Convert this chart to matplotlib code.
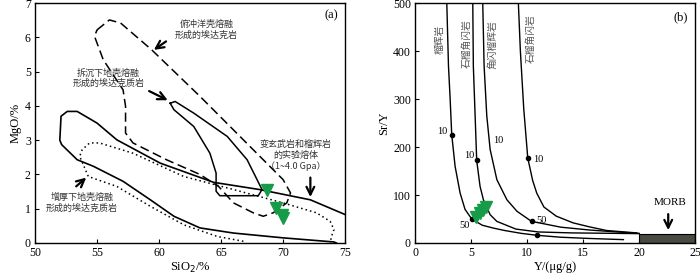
import numpy as np
import matplotlib.pyplot as plt
from matplotlib.patches import Rectangle

plt.rcParams['font.family'] = ['Liberation Serif', 'Noto Sans CJK SC']
cjk = ['Noto Sans CJK SC', 'DejaVu Sans']

# panel a: SiO2 vs MgO fields
solid_x = [75, 72.2, 68.1, 64.4, 60.1, 56.6, 55.0, 53.4, 52.6, 52.1, 52.0, 52.15, 53.4, 54.7, 57.1, 59.3, 61.2, 63.3, 66.0, 70.0, 74.1, 74.3]
solid_y = [0.83, 1.26, 1.56, 1.77, 2.33, 3.01, 3.5, 3.84, 3.84, 3.7, 3.0, 2.87, 2.43, 2.24, 1.8, 1.26, 0.78, 0.44, 0.29, 0.15, 0.03, 0.0]

deland_x = [60.9, 61.3, 62.8, 65.5, 67.1, 68.3, 68.0, 64.9, 64.6, 64.6, 64.1, 62.8, 61.2, 60.9]
deland_y = [4.08, 4.13, 3.79, 3.11, 2.43, 1.56, 1.38, 1.38, 1.51, 2.04, 2.62, 3.4, 3.89, 4.08]

slab_x = [55.0, 56.0, 56.9, 59.4, 63.3, 67.6, 70.0, 70.6, 70.3, 69.2, 68.4, 67.6, 66.0, 64.8, 63.3, 60.6, 57.9, 57.3, 57.3, 57.1, 55.5, 54.8, 55.0]
slab_y = [6.22, 6.51, 6.42, 5.64, 4.28, 2.72, 1.85, 1.46, 1.17, 0.88, 0.78, 0.88, 1.17, 1.65, 2.0, 2.43, 2.92, 3.21, 3.99, 4.47, 5.35, 6.03, 6.22]

thick_x = [66.8, 64.7, 62.0, 59.3, 56.6, 54.3, 53.6, 53.8, 54.4, 55.2, 57.9, 62.0, 66.0, 70.0, 72.7, 73.8, 74.1, 73.9, 73.8]
thick_y = [0.05, 0.19, 0.53, 1.07, 1.65, 1.94, 2.53, 2.72, 2.92, 2.92, 2.62, 1.94, 1.56, 1.17, 0.88, 0.63, 0.39, 0.19, 0.0]

sample_sio2 = [68.7, 69.4, 69.9, 70.0]
sample_mgo = [1.56, 1.02, 0.83, 0.73]

# panel b: Y vs Sr/Y melting curves
c1_x = [2.83, 2.98, 3.13, 3.27, 3.57, 4.02, 4.46, 5.06, 6.0, 7.0, 8.0, 9.5, 10.9, 13.0, 15.5, 18.6]
c1_y = [500, 369, 300, 226, 160, 104, 70, 50, 37, 31, 26, 20, 16, 12, 9.5, 7]
c2_x = [5.15, 5.2, 5.36, 5.5, 5.8, 6.1, 6.7, 7.3, 9.0, 11.0, 14.0, 17.0, 20.0]
c2_y = [500, 369, 265, 172, 118, 90, 59, 45, 29, 23, 21, 20.3, 19.5]
c3_x = [6.04, 6.16, 6.4, 6.7, 7.3, 8.2, 9.1, 10.4, 11.5, 13.0, 15.6, 18.0, 20.0]
c3_y = [500, 370, 265, 195, 132, 90, 66, 45, 40, 33, 27, 23, 20]
c4_x = [9.22, 9.4, 9.7, 10.06, 10.5, 10.86, 11.5, 12.6, 14.1, 15.5, 17.1, 19.8]
c4_y = [500, 400, 280, 177, 130, 104, 75, 56, 42, 34, 26, 21]

dot_x = [3.27, 5.06, 10.9, 5.5, 10.06, 10.4]
dot_y = [226, 50, 16, 172, 177, 45]

sample_y = [5.4, 5.75, 6.05, 6.35]
sample_sry = [55, 62, 69, 76]

morb_y = (20, 25)
morb_sry = 19.5

green = '#169c48'

fig = plt.figure(figsize=(7, 2.76), dpi=100)
ax = fig.add_axes([0.05, 0.1196, 0.443, 0.869])
bx = fig.add_axes([0.593, 0.1196, 0.4, 0.869])

ax.plot(solid_x, solid_y, 'k-', lw=1.2)
ax.plot(deland_x, deland_y, 'k-', lw=1.1)
ax.plot(slab_x, slab_y, 'k', lw=1.1, dashes=(6, 3))
ax.plot(thick_x, thick_y, 'k', lw=1.1, dashes=(1, 2))
ax.plot(sample_sio2, sample_mgo, 'v', color=green, ms=8, mec=green)

ap = dict(arrowstyle='->', lw=1.6, color='k', mutation_scale=14)
ax.annotate('', xy=(59.4, 5.59), xytext=(60.75, 5.93), arrowprops=ap)
ax.annotate('', xy=(60.9, 4.13), xytext=(59.0, 4.47), arrowprops=ap)
ax.annotate('', xy=(54.3, 1.96), xytext=(53.15, 1.6), arrowprops=ap)
ax.annotate('', xy=(72.2, 1.26), xytext=(72.2, 1.99), arrowprops=ap)

tkw = dict(fontsize=6.5, color='#333333', ha='center', va='center', family=cjk, linespacing=1.2)
ax.text(63.8, 6.22, '俯冲洋壳熔融\n形成的埃达克岩', **tkw)
ax.text(55.9, 4.81, '拆沉下地壳熔融\n形成的埃达克质岩', **tkw)
ax.text(53.76, 1.17, '增厚下地壳熔融\n形成的埃达克质岩', **tkw)
ax.text(71.0, 2.55, '变玄武岩和榴辉岩\n的实验熔体\n（1~4.0 Gpa）', **tkw)
ax.text(73.9, 6.66, '(a)', fontsize=9, ha='center', va='center')

ax.set_xlim(50, 75)
ax.set_ylim(0, 7)
ax.set_xticks(np.arange(50, 76, 5))
ax.set_yticks(np.arange(0, 8, 1))
ax.set_xlabel('SiO$_2$/%', fontsize=9, labelpad=1)
ax.set_ylabel('MgO/%', fontsize=9, labelpad=2)

for c_x, c_y in [(c1_x, c1_y), (c2_x, c2_y), (c3_x, c3_y), (c4_x, c4_y)]:
    bx.plot(c_x, c_y, 'k-', lw=1.0)
bx.plot(dot_x, dot_y, 'ko', ms=3)
bx.plot(sample_y, sample_sry, 'v', color=green, ms=8, mec=green)
bx.add_patch(Rectangle((morb_y[0], 0), morb_y[1] - morb_y[0], morb_sry, fc='#4a4a40', ec='k', lw=0.8))
bx.annotate('', xy=(22.6, 21), xytext=(22.6, 66), arrowprops=ap)
bx.text(22.8, 84, 'MORB', fontsize=8, ha='center', va='center')
bx.text(23.7, 470, '(b)', fontsize=9, ha='center', va='center')

nkw = dict(fontsize=7.5, ha='center', va='center')
bx.text(2.45, 233, '10', **nkw)
bx.text(4.85, 182, '10', **nkw)
bx.text(7.4, 214, '10', **nkw)
bx.text(11.0, 175, '10', **nkw)
bx.text(11.3, 47, '50', **nkw)
bx.text(4.4, 36, '50', **nkw)

vkw = dict(fontsize=7, color='#555555', ha='center', va='center', rotation=90, family=cjk)
bx.text(2.23, 425, '榴辉岩', **vkw)
bx.text(4.6, 416, '石榴角闪岩', **vkw)
bx.text(6.85, 413, '角闪榴辉岩', **vkw)
bx.text(10.3, 427, '石榴角闪岩', **vkw)

bx.set_xlim(0, 25)
bx.set_ylim(0, 500)
bx.set_xticks(np.arange(0, 26, 5))
bx.set_yticks(np.arange(0, 501, 100))
bx.set_xlabel('Y/(μg/g)', fontsize=9, labelpad=1)
bx.set_ylabel('Sr/Y', fontsize=9, labelpad=2)

for a in (ax, bx):
    a.tick_params(direction='in', length=3, labelsize=8.5)
    a.tick_params(axis='x', pad=3)
    a.tick_params(axis='y', pad=3)
    for s in a.spines.values():
        s.set_linewidth(1.0)

fig.savefig('out.png', dpi=100)
